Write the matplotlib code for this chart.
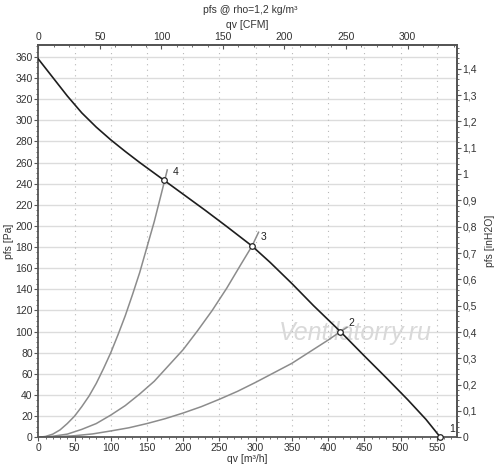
import matplotlib.pyplot as plt
from matplotlib.ticker import MultipleLocator, AutoMinorLocator, FuncFormatter

plt.rcParams['font.family'] = ['Liberation Sans', 'DejaVu Sans']

# Fan curve: qv [m3/h], pfs [Pa]
fan_qv = [0, 20, 40, 60, 80, 100, 120, 140, 160, 180, 200, 230, 260, 295,
          320, 350, 380, 417, 450, 480, 510, 535, 555]
fan_pfs = [358, 340.5, 323, 307, 293.5, 281.5, 270.5, 260, 250, 240, 230, 215,
           199.5, 181, 165.5, 145.5, 124.5, 100, 77, 56.5, 35.5, 17, 0]

# System curves through the operating points
sys4_qv = [0, 10, 20, 30, 40, 50, 60, 70, 80, 90, 100, 110, 120, 130, 140,
           150, 160, 170, 178]
sys4_pfs = [0, 0.8, 3, 7, 13, 20, 29, 39, 51, 65, 80, 97, 115, 135, 156,
            180, 204, 231, 253]
sys3_qv = [0, 20, 40, 60, 80, 100, 120, 140, 160, 180, 200, 220, 240, 260,
           280, 295, 304]
sys3_pfs = [0, 1, 3, 7.5, 13, 21, 30, 41, 53, 68, 83, 101, 120, 141, 164,
            181, 194]
sys2_qv = [0, 25, 50, 75, 100, 125, 150, 175, 200, 225, 250, 275, 300, 325,
           350, 375, 400, 417, 426]
sys2_pfs = [0, 0.4, 1.5, 3.2, 6, 9, 13, 17.6, 23, 29, 36, 43.5, 52, 61, 70,
            81, 92, 100, 104]

# Operating points
pt_labels = ['1', '2', '3', '4']
pt_qv = [555, 417, 295, 174]
pt_pfs = [0, 100, 181, 243]

CFM = 1.699
INH2O = 249.089

fig = plt.figure(figsize=(5, 4.68), dpi=100)
ax = fig.add_axes([0.0766, 0.0656, 0.8368, 0.8389])

grey_txt = '#333333'
spine_col = '#555555'

ax.set_xlim(0, 577.5)
ax.set_ylim(0, 371.5)

for y in range(20, 380, 20):
    ax.axhline(y, color='#dcdcdc', lw=1, zorder=0)
for x in range(50, 577, 50):
    ax.axvline(x, color='#b8b8b8', lw=0.8, ls=(0, (1, 4)), zorder=0)

ax.plot(sys4_qv, sys4_pfs, color='#8c8c8c', lw=1.1, zorder=2)
ax.plot(sys3_qv, sys3_pfs, color='#8c8c8c', lw=1.1, zorder=2)
ax.plot(sys2_qv, sys2_pfs, color='#8c8c8c', lw=1.1, zorder=2)
ax.plot(fan_qv, fan_pfs, color='#1e1e1e', lw=1.2, zorder=3)
ax.plot(pt_qv, pt_pfs, 'o', ms=4, mfc='white', mec='#222222', mew=0.9, zorder=4,
        clip_on=False)
for lab, q, p in zip(pt_labels, pt_qv, pt_pfs):
    ax.annotate(lab, (q, p), xytext=(6, 4), textcoords='offset points',
                fontsize=7.5, color='#222222')

ax.text(438, 99, 'Ventilatorry.ru', fontsize=18, style='italic', color='#d9d9d9',
        ha='center', va='center', zorder=1)

ax.xaxis.set_major_locator(MultipleLocator(50))
ax.xaxis.set_minor_locator(AutoMinorLocator(5))
ax.yaxis.set_major_locator(MultipleLocator(20))
ax.yaxis.set_minor_locator(AutoMinorLocator(4))

for s in ax.spines.values():
    s.set_color(spine_col)
    s.set_linewidth(1.3)

ax.tick_params(which='major', direction='out', length=3, width=0.8, color=spine_col,
               labelsize=7.5, labelcolor=grey_txt, pad=1)
ax.tick_params(which='minor', direction='out', length=1.5, width=0.6, color=spine_col)

comma = FuncFormatter(lambda v, p: ('%g' % round(v, 2)).replace('.', ','))

top = ax.secondary_xaxis('top', functions=(lambda q: q / CFM, lambda c: c * CFM))
top.xaxis.set_major_locator(MultipleLocator(50))
top.xaxis.set_minor_locator(AutoMinorLocator(4))
top.tick_params(which='major', direction='in', length=3, width=0.8, color=spine_col,
                labelsize=7.5, labelcolor=grey_txt, pad=2)
top.tick_params(which='minor', direction='in', length=1.5, width=0.6, color=spine_col)
top.spines['top'].set_color(spine_col)
top.spines['top'].set_linewidth(1.3)
top.set_xlabel('qv [CFM]', fontsize=7.5, color=grey_txt, labelpad=3)

right = ax.secondary_yaxis('right', functions=(lambda p: p / INH2O, lambda i: i * INH2O))
right.yaxis.set_major_locator(MultipleLocator(0.1))
right.yaxis.set_minor_locator(AutoMinorLocator(5))
right.yaxis.set_major_formatter(comma)
right.tick_params(which='major', direction='out', length=3, width=0.8, color=spine_col,
                  labelsize=7.5, labelcolor=grey_txt, pad=1)
right.tick_params(which='minor', direction='out', length=1.5, width=0.6, color=spine_col)
right.spines['right'].set_color(spine_col)
right.spines['right'].set_linewidth(1.3)
right.set_ylabel('pfs [inH2O]', fontsize=7.5, color=grey_txt, labelpad=6)

ax.set_xlabel('qv [m³/h]', fontsize=7.5, color=grey_txt, labelpad=1)
ax.set_ylabel('pfs [Pa]', fontsize=7.5, color=grey_txt, labelpad=1)

fig.text(0.5, 1 - 10 / 468, 'pfs @ rho=1,2 kg/m³', fontsize=7.5, color=grey_txt,
         ha='center', va='center')

fig.savefig('out.png', dpi=100, facecolor='white')
